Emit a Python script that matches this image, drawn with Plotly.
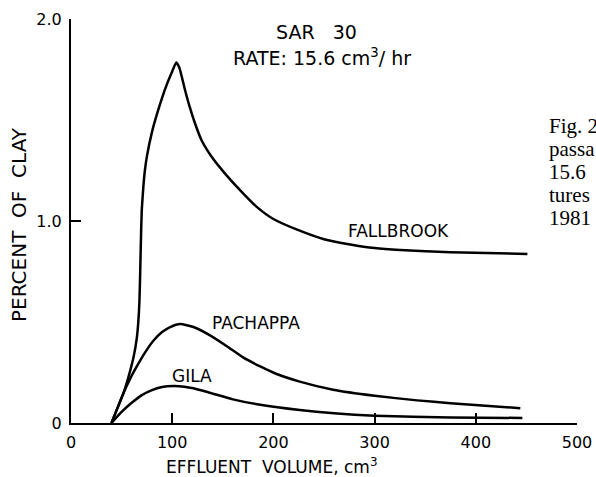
import plotly.graph_objects as go

# ---- data ----
fall_x = [40, 46, 52, 58, 62, 65, 66.5, 67.6, 68.2, 68.7, 69.3, 70, 71.5, 73, 75, 80, 85, 90, 95, 100, 104, 107, 112.6, 117, 122.5, 129, 139, 152, 167, 183.5, 200, 226, 250, 276, 300, 325, 375, 451]
fall_y = [0, 0.075, 0.15, 0.25, 0.33, 0.42, 0.5, 0.6, 0.71, 0.82, 0.95, 1.06, 1.17, 1.25, 1.32, 1.44, 1.53, 1.61, 1.68, 1.74, 1.785, 1.76, 1.65, 1.57, 1.484, 1.40, 1.318, 1.236, 1.153, 1.07, 1.01, 0.952, 0.91, 0.884, 0.866, 0.856, 0.845, 0.837]

pach_x = [40, 46, 52, 58, 65, 72, 81, 90, 98, 108, 121, 137, 154, 170, 187, 202, 226, 259, 300, 342, 375, 444]
pach_y = [0, 0.075, 0.15, 0.215, 0.28, 0.34, 0.405, 0.45, 0.475, 0.49, 0.475, 0.435, 0.38, 0.325, 0.28, 0.245, 0.205, 0.165, 0.135, 0.112, 0.098, 0.073]

gila_x = [40, 50, 60, 70, 80, 90, 101, 112, 121, 137, 160, 187, 226, 260, 300, 375, 446]
gila_y = [0, 0.055, 0.1, 0.138, 0.163, 0.178, 0.183, 0.18, 0.172, 0.15, 0.117, 0.09, 0.064, 0.048, 0.036, 0.027, 0.025]

x_ticks = [0, 100, 200, 300, 400, 500]
x_tick_labels = ["0", "100", "200", "300", "400", "500"]
y_ticks = [0, 1.0, 2.0]
y_tick_labels = ["0", "1.0", "2.0"]

curve_labels = ["FALLBROOK", "PACHAPPA", "GILA"]
curve_label_x = [324, 183, 120]
curve_label_y = [0.95, 0.495, 0.233]

caption_lines = ["Fig. 2", "passa", "15.6", "tures", "1981"]
caption_y = [1.47, 1.356, 1.243, 1.129, 1.015]

FONT = "DejaVu Sans"

fig = go.Figure()
for xs, ys in [(fall_x, fall_y), (pach_x, pach_y), (gila_x, gila_y)]:
    fig.add_trace(go.Scatter(x=xs, y=ys, mode="lines",
                             line=dict(color="black", width=2.5, shape="spline", smoothing=0.5),
                             showlegend=False, hoverinfo="skip"))

for t, x, y in zip(curve_labels, curve_label_x, curve_label_y):
    fig.add_annotation(x=x, y=y, text=t, showarrow=False, xanchor="center", yanchor="middle",
                       font=dict(family=FONT, size=17, color="black"))

fig.add_annotation(x=0.486, y=0.967, xref="paper", yref="paper", text="SAR\u00a0\u00a0\u00a030",
                   showarrow=False, xanchor="center", yanchor="middle",
                   font=dict(family=FONT, size=19, color="black"))
fig.add_annotation(x=0.496, y=0.905, xref="paper", yref="paper",
                   text="RATE:\u00a015.6\u00a0cm<sup>3</sup>/\u00a0hr", showarrow=False,
                   xanchor="center", yanchor="middle",
                   font=dict(family=FONT, size=19, color="black"))

fig.add_annotation(x=0.397, y=-0.106, xref="paper", yref="paper",
                   text="EFFLUENT\u00a0\u00a0VOLUME,\u00a0cm<sup>3</sup>", showarrow=False,
                   xanchor="center", yanchor="middle",
                   font=dict(family=FONT, size=17, color="black"))
fig.add_annotation(x=-0.1028, y=0.4926, xref="paper", yref="paper",
                   text="PERCENT\u00a0\u00a0OF\u00a0\u00a0CLAY", showarrow=False, textangle=-90,
                   xanchor="center", yanchor="middle",
                   font=dict(family=FONT, size=20, color="black"))

for t, y in zip(caption_lines, caption_y):
    fig.add_annotation(x=0.94, y=y, xref="paper", text=t, showarrow=False, xanchor="left",
                       yanchor="middle",
                       font=dict(family="Liberation Serif", size=21, color="black"))

fig.update_xaxes(range=[0, 500], tickvals=x_ticks, ticktext=x_tick_labels, automargin=False,
                 showline=True, linecolor="black", linewidth=2, ticks="inside", ticklen=10,
                 tickwidth=2, tickcolor="black", showgrid=False, zeroline=False,
                 tickfont=dict(family=FONT, size=16, color="black"), ticklabelstandoff=4)
fig.update_yaxes(range=[0, 2], tickvals=y_ticks, ticktext=y_tick_labels, automargin=False,
                 showline=True, linecolor="black", linewidth=2, ticks="inside", ticklen=10,
                 tickwidth=2, tickcolor="black", showgrid=False, zeroline=False,
                 tickfont=dict(family=FONT, size=16, color="black"), ticklabelstandoff=4)

fig.update_layout(width=596, height=477, margin=dict(l=71, r=19, t=19, b=54),
                  plot_bgcolor="white", paper_bgcolor="white")

# remove the browser's default 8px body margin so the figure fills the window exactly
fig.write_html("out.html", config={"displayModeBar": False},
               post_script="document.body.style.margin='0';document.body.style.overflow='hidden';")
